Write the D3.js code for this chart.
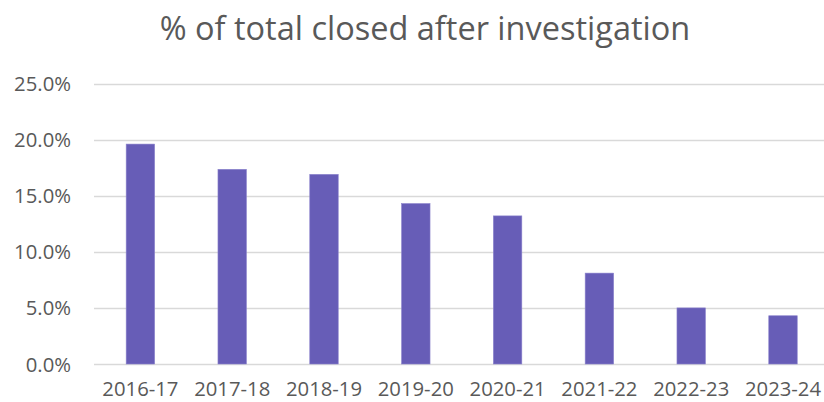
<!DOCTYPE html>
<html>
<head>
<meta charset="utf-8">
<script src="https://cdn.jsdelivr.net/npm/d3@7"></script>
<style>
  body { margin: 0; background: #fff; }
  text { font-family: "Open Sans", "Liberation Sans", sans-serif; fill: #595959; }
</style>
</head>
<body>
<svg width="824" height="402"></svg>
<script>
// data
const years = ["2016-17", "2017-18", "2018-19", "2019-20", "2020-21", "2021-22", "2022-23", "2023-24"];
const closedPct = [0.196, 0.1735, 0.169, 0.143, 0.132, 0.081, 0.050, 0.043];
const yTicks = [0, 0.05, 0.10, 0.15, 0.20, 0.25];

const svg = d3.select("svg");
const W = 824, H = 402;

const x = d3.scaleBand()
    .domain(years)
    .range([94.5, 94.5 + 91.8 * years.length])
    .paddingInner(0.69)
    .paddingOuter(0.345);

const y = d3.scaleLinear()
    .domain([0, 0.25])
    .range([364, 83.5]);

// gridlines
svg.append("g")
    .selectAll("line")
    .data(yTicks)
    .enter().append("line")
    .attr("x1", 94)
    .attr("x2", W)
    .attr("y1", d => Math.round(y(d)) + 0.5)
    .attr("y2", d => Math.round(y(d)) + 0.5)
    .attr("stroke", "#d9d9d9")
    .attr("stroke-width", 1.3);

// y labels
const fmt = d3.format(".1%");
svg.append("g")
    .selectAll("text")
    .data(yTicks)
    .enter().append("text")
    .attr("x", 71)
    .attr("y", d => y(d) + 7.5)
    .attr("text-anchor", "end")
    .style("font-size", "20.3px")
    .text(d => fmt(d));

// bars
svg.append("g")
    .selectAll("rect")
    .data(closedPct)
    .enter().append("rect")
    .attr("x", (d, i) => x(years[i]))
    .attr("y", d => y(d))
    .attr("width", x.bandwidth())
    .attr("height", d => y(0) - y(d))
    .attr("fill", "#675db7")
    .attr("stroke", "#8a82cc")
    .attr("stroke-width", 0.6);

// x labels (kept just inside the bottom edge)
svg.append("g")
    .selectAll("text")
    .data(years)
    .enter().append("text")
    .attr("x", d => x(d) + x.bandwidth() / 2)
    .attr("y", 396)
    .attr("text-anchor", "middle")
    .style("font-size", "20.3px")
    .text(d => d);

// title
svg.append("text")
    .attr("x", 425)
    .attr("y", 40)
    .attr("text-anchor", "middle")
    .style("font-size", "32.5px")
    .text("% of total closed after investigation");
</script>
</body>
</html>
